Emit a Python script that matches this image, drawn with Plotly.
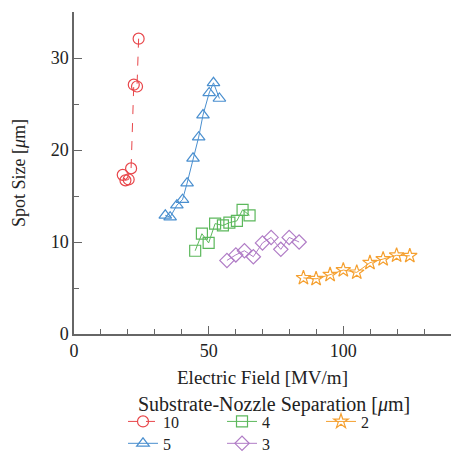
import plotly.graph_objects as go

# Data
sep10_x = [24.0, 23.4, 22.2, 21.2, 20.3, 19.1, 18.1]
sep10_y = [32.1, 26.9, 27.1, 18.0, 16.8, 16.7, 17.3]

sep5_x = [33.9, 35.7, 38.2, 40.3, 42.0, 44.2, 46.3, 47.9, 50.2, 51.8, 54.0]
sep5_y = [12.9, 12.7, 14.0, 14.6, 16.4, 19.1, 21.4, 23.8, 26.2, 27.3, 25.6]

sep4_x = [45.0, 47.5, 50.0, 52.4, 55.3, 57.7, 60.5, 62.6, 65.2]
sep4_y = [9.05, 10.9, 9.9, 12.0, 11.8, 12.1, 12.3, 13.5, 12.9]

sep3_x = [56.8, 60.1, 63.3, 66.6, 70.0, 73.2, 76.8, 79.9, 83.6]
sep3_y = [8.0, 8.6, 9.05, 8.4, 9.9, 10.5, 9.2, 10.5, 10.0]

sep2_x = [85.2, 89.9, 95.1, 100.0, 105.0, 109.9, 114.8, 119.8, 124.7]
sep2_y = [6.1, 6.0, 6.45, 6.95, 6.7, 7.75, 8.15, 8.55, 8.5]

legend_title = "Substrate-Nozzle Separation [<i>μ</i>m]"

series = [
    ("10", sep10_x, sep10_y, "#e8474b", "circle-open", "dash", 1, "legend"),
    ("4", sep4_x, sep4_y, "#5cb85c", "square-open", "solid", 2, "legend"),
    ("2", sep2_x, sep2_y, "#f5a030", "star-open", "solid", 3, "legend"),
    ("5", sep5_x, sep5_y, "#4a8fcf", "triangle-up-open", "solid", 4, "legend2"),
    ("3", sep3_x, sep3_y, "#b07cc6", "diamond-open", "solid", 5, "legend2"),
]

FONT = "Liberation Serif, Times New Roman, serif"

fig = go.Figure()
for name, xs, ys, color, symbol, dash, rank, leg in series:
    fig.add_trace(go.Scatter(
        x=xs, y=ys, name=name, mode="lines+markers",
        line=dict(color=color, width=1, dash=dash),
        marker=dict(symbol=symbol, size=11, color=color, line=dict(width=1.2, color=color)),
        legendrank=rank, legend=leg,
    ))

common_legend = dict(
    orientation="h", xanchor="left", yanchor="top",
    entrywidth=54, entrywidthmode="pixels",
    font=dict(family=FONT, size=16),
    tracegroupgap=0, itemwidth=30,
    bgcolor="rgba(0,0,0,0)",
)

fig.update_layout(
    width=453, height=452,
    margin=dict(l=74, r=2, t=12, b=118, autoexpand=False),
    paper_bgcolor="white", plot_bgcolor="white",
    font=dict(family=FONT, size=18, color="#222"),
    showlegend=True,
    legend=dict(x=0.13, y=-0.219, **common_legend),
    legend2=dict(x=0.13, y=-0.287, **common_legend),
    annotations=[dict(
        text=legend_title, xref="paper", yref="paper",
        x=0.165, y=-0.219, xanchor="left", yanchor="middle",
        showarrow=False, font=dict(family=FONT, size=20, color="#222"),
    )],
)

fig.update_xaxes(
    range=[0, 140], showgrid=False, zeroline=False,
    showline=True, linecolor="#666", linewidth=1.5,
    ticks="inside", ticklen=8, tickcolor="#666", tickwidth=1.2,
    tickvals=[0, 50, 100], ticktext=["0", "50", "100"],
    minor=dict(ticks="inside", ticklen=5, tickcolor="#666", dtick=10, tick0=0, showgrid=False),
    title=dict(text="Electric Field [MV/m]", standoff=10, font=dict(family=FONT, size=19)),
    tickfont=dict(family=FONT, size=18),
)
fig.update_yaxes(
    range=[0, 35], showgrid=False, zeroline=False,
    showline=True, linecolor="#666", linewidth=1.5,
    ticks="inside", ticklen=8, tickcolor="#666", tickwidth=1.2,
    tickvals=[0, 10, 20, 30],
    minor=dict(ticks="inside", ticklen=5, tickcolor="#666", dtick=5, tick0=0, showgrid=False),
    title=dict(text="Spot Size [<i>μ</i>m]", standoff=20, font=dict(family=FONT, size=18)),
    tickfont=dict(family=FONT, size=18),
)

fig.write_html("out.html", config={"displayModeBar": False},
               post_script="document.body.style.margin='0';")
